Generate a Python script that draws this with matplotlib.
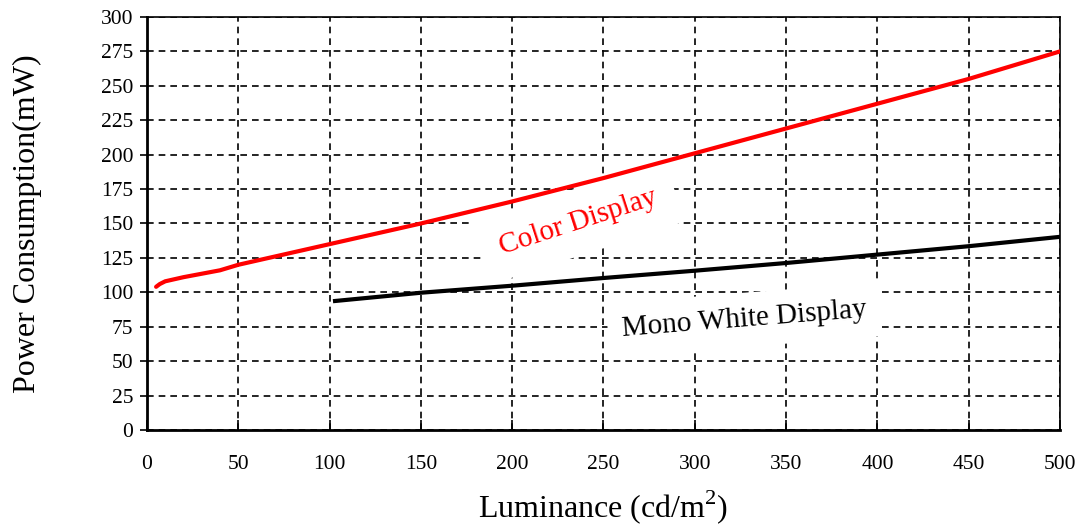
import matplotlib
matplotlib.use("Agg")
import matplotlib.pyplot as plt
import numpy as np

plt.rcParams['font.family'] = ['Liberation Serif', 'DejaVu Serif']
plt.rcParams['mathtext.fontset'] = 'custom'
plt.rcParams['mathtext.rm'] = 'Liberation Serif'

# values
color_x = [5, 7, 10, 20, 40, 50, 100, 150, 200, 250, 300, 350, 400, 450, 500]
color_y = [104, 106, 108, 111, 116, 120, 135, 150, 166, 183, 201, 219, 237, 255, 275]

mono_x = [103, 150, 200, 250, 300, 350, 400, 450, 500]
mono_y = [93.7, 99.7, 104.8, 110.4, 115.7, 121.3, 127.4, 133.5, 140.3]

x_ticks = list(range(0, 501, 50))
y_ticks = list(range(0, 301, 25))

fig = plt.figure(figsize=(10.79, 5.24), dpi=100)
ax = fig.add_axes([0.1362, 0.1794, 0.8462, 0.7882])

ax.plot(color_x, color_y, color="#ff0000", lw=3, solid_capstyle="round", zorder=3)
ax.plot(mono_x, mono_y, color="black", lw=3, zorder=3)

ax.set_xlim(0, 500)
ax.set_ylim(0, 300)
ax.set_xticks(x_ticks)
ax.set_yticks(y_ticks)
ax.grid(True, color="black", linestyle=(0, (4, 3)), linewidth=1.2)
ax.set_axisbelow(True)

for s in ax.spines.values():
    s.set_linewidth(1.2)
ax.spines["left"].set_linewidth(2)
ax.spines["bottom"].set_linewidth(2)

ax.tick_params(axis="y", direction="out", length=5, width=1.2, labelsize=15.5, pad=5)
ax.tick_params(axis="x", direction="in", length=7, width=1.2, labelsize=15.5, pad=18)

ax.set_xlabel("Luminance (cd/m$^2$)", fontsize=23, labelpad=10)
ax.set_ylabel("Power Consumption(mW)", fontsize=23)
ax.yaxis.set_label_coords(-0.115, 0.5)

# labels sit on white boxes that hide the grid but stay under the curves
ax.text(236, 151, "Color Display", color="#ff0000", fontsize=21,
        rotation=18, ha="center", va="center", zorder=2.5,
        bbox=dict(facecolor="white", edgecolor="none", pad=14))
ax.text(327, 80, "Mono White Display", color="black", fontsize=21,
        rotation=4.5, ha="center", va="center", zorder=2.5,
        bbox=dict(facecolor="white", edgecolor="none", pad=10))

fig.savefig("out.png", dpi=100)
